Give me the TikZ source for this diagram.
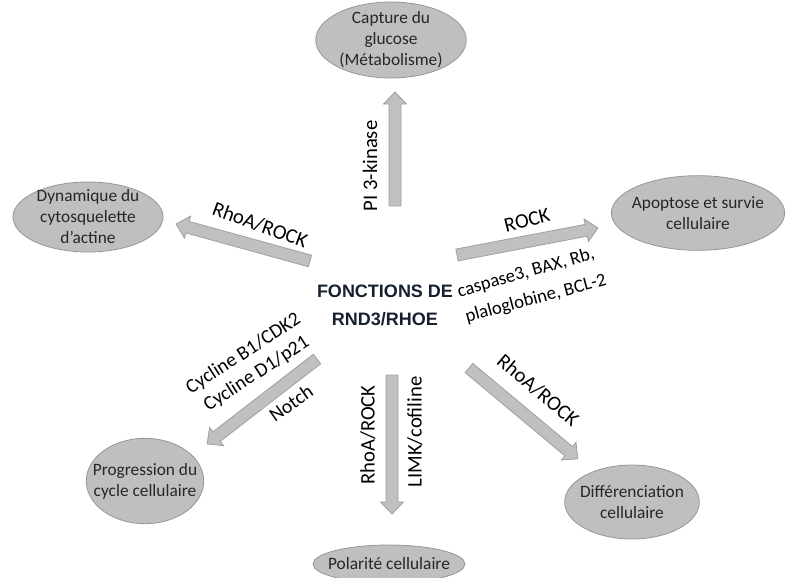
\documentclass[tikz,border=0pt]{standalone}
\usepackage{fontspec}
\setmainfont{Carlito}
\newfontfamily\titlefont{Liberation Sans}
\usetikzlibrary{calc,shapes.geometric}
\definecolor{ellipsefill}{RGB}{191,191,191}
\definecolor{ellipseedge}{RGB}{150,150,150}
\definecolor{flowfill}{RGB}{192,192,192}
\definecolor{flowedge}{RGB}{160,160,160}
\definecolor{textgray}{RGB}{38,38,38}
\definecolor{titleink}{RGB}{23,32,46}

\begin{document}
\begin{tikzpicture}[
      x=0.75pt,y=-0.75pt,
      outcome/.style={ellipse,draw=ellipseedge,fill=ellipsefill,line width=0.6pt,align=center,inner sep=-8pt,text=textgray,font=\fontsize{13}{15.75}\selectfont},
      tag/.style={inner sep=0pt,font=\fontsize{15.5}{18}\selectfont},
      smalltag/.style={inner sep=0pt,align=center,font=\fontsize{14}{18}\selectfont},
      flow/.style={draw=flowedge,fill=flowfill,line width=0.6pt,
        to path={let \p1=(\tikztostart), \p2=(\tikztotarget),
          \n1={atan2(\y2-\y1,\x2-\x1)}, \n2={veclen(\x2-\x1,\y2-\y1)} in
          ([shift={(\p1)},rotate=\n1]0pt,-4.5pt) -- ([shift={(\p1)},rotate=\n1]{\n2*1pt-9pt},-4.5pt)
          -- ([shift={(\p1)},rotate=\n1]{\n2*1pt-9pt},-8.6pt) -- ([shift={(\p1)},rotate=\n1]{\n2*1pt},0pt)
          -- ([shift={(\p1)},rotate=\n1]{\n2*1pt-9pt},8.6pt) -- ([shift={(\p1)},rotate=\n1]{\n2*1pt-9pt},4.5pt)
          -- ([shift={(\p1)},rotate=\n1]0pt,4.5pt) -- cycle}}
    ]
      \clip (0,0) rectangle (786,578);

      \node[font=\titlefont\bfseries\fontsize{13.5}{21}\selectfont,text=titleink,align=center] (core) at (385,305) {FONCTIONS DE\\RND3/RHOE};

      \node[outcome,minimum width=113pt,minimum height=57pt] (glucose) at (391,40) {Capture du\\glucose\\(Métabolisme)};
      \node[outcome,minimum width=112.5pt,minimum height=52.5pt] (actine) at (88,217) {Dynamique du\\cytosquelette\\d’actine};
      \node[outcome,minimum width=130pt,minimum height=56pt] (apoptose) at (698,213) {Apoptose et survie\\cellulaire};
      \node[outcome,minimum width=87pt,minimum height=64pt] (cycle) at (145,481) {Progression du\\cycle cellulaire};
      \node[outcome,minimum width=114pt,minimum height=28.5pt] (polarite) at (389,564) {Polarité cellulaire};
      \node[outcome,minimum width=101pt,minimum height=55.5pt] (diff) at (632,502) {Différenciation\\cellulaire};

      \coordinate (from-glucose) at (395,206);
      \coordinate (to-glucose) at (395,92);
      \coordinate (from-actine) at (310,261);
      \coordinate (to-actine) at (176,224);
      \coordinate (from-apoptose) at (457,255);
      \coordinate (to-apoptose) at (598,228);
      \coordinate (from-cycle) at (317,359);
      \coordinate (to-cycle) at (207,444);
      \coordinate (from-polarite) at (392,375);
      \coordinate (to-polarite) at (392,514);
      \coordinate (from-diff) at (469,368);
      \coordinate (to-diff) at (578,459);

      \path[flow] (from-glucose) to (to-glucose);
      \path[flow] (from-actine) to (to-actine);
      \path[flow] (from-apoptose) to (to-apoptose);
      \path[flow] (from-cycle) to (to-cycle);
      \path[flow] (from-polarite) to (to-polarite);
      \path[flow] (from-diff) to (to-diff);

      \node[tag,rotate=90] (pi3k) at (370,166) {PI 3-kinase};
      \node[tag,rotate=-20] (rhoa-actine) at (260,225) {RhoA/ROCK};
      \node[tag,rotate=14] (rock) at (527,220) {ROCK};
      \node[smalltag,rotate=16] (casp) at (526,273) {caspase3, BAX, Rb,};
      \node[smalltag,rotate=15] (plako) at (536,299) {plaloglobine, BCL-2};
      \node[smalltag,rotate=33,font=\fontsize{14.8}{18}\selectfont] (cyclines) at (250,364) {Cycline B1/CDK2\\Cycline D1/p21};
      \node[smalltag,rotate=35,font=\fontsize{14.8}{18}\selectfont] (notch) at (291,403) {Notch};
      \node[tag,rotate=90] (rhoa-polarite) at (368,435) {RhoA/ROCK};
      \node[tag,rotate=90] (limk) at (415,432) {LIMK/cofiline};
      \node[tag,rotate=-40] (rhoa-diff) at (538,390) {RhoA/ROCK};
    \end{tikzpicture}
\end{document}
